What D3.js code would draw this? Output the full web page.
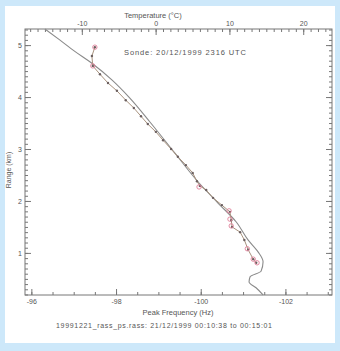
<!DOCTYPE html>
<html>
<head>
<meta charset="utf-8">
<script src="https://cdn.jsdelivr.net/npm/d3@7"></script>
<style>
  body { margin: 0; background: #cde8fa; }
  svg { display: block; }
  text { font-family: "Liberation Sans", Arial, sans-serif; fill: #555; }
</style>
</head>
<body>
<div id="chart"></div>
<script>
// sonde temperature profile (top axis)
const sondeTemp = [-15.0, -13.0, -10.95, -8.64, -5.93, -3.49, -0.77, 2.62, 5.74, 8.45, 10.9, 12.52, 13.88, 14.56, 14.29, 12.8, 12.66, 13.61, 14.56];
const sondeRange = [5.31, 5.1, 4.88, 4.65, 4.33, 3.98, 3.52, 2.92, 2.37, 1.96, 1.6, 1.25, 1.02, 0.83, 0.65, 0.54, 0.44, 0.33, 0.19];

// RASS peak frequency profile (bottom axis)
const rassFreq = [-97.5, -97.43, -97.45, -97.62, -97.81, -98.02, -98.23, -98.42, -98.59, -98.75, -98.94, -99.11, -99.3, -99.46, -99.65, -99.81, -99.91, -99.98, -100.13, -100.29, -100.5, -100.69, -100.72, -100.74, -100.93, -101.03, -101.12, -101.24, -101.31];
const rassRange = [4.96, 4.79, 4.6, 4.44, 4.27, 4.12, 3.94, 3.79, 3.63, 3.48, 3.33, 3.17, 3.0, 2.85, 2.69, 2.54, 2.38, 2.29, 2.21, 2.06, 1.92, 1.79, 1.63, 1.5, 1.4, 1.25, 1.06, 0.88, 0.81];

// flagged gates (pink circles)
const flagFreq = [-97.5, -97.45, -99.96, -100.67, -100.69, -100.72, -101.1, -101.24, -101.33];
const flagRange = [4.96, 4.6, 2.27, 1.81, 1.65, 1.52, 1.08, 0.88, 0.81];

const freqTicks = [-96, -98, -100, -102];
const tempTicks = [-10, 0, 10, 20];
const rangeTicks = [1, 2, 3, 4, 5];

const width = 340, height = 351;
const svg = d3.select('#chart').append('svg')
    .attr('width', width)
    .attr('height', height);

svg.append('rect')
    .attr('x', 5).attr('y', 6)
    .attr('width', 330).attr('height', 337)
    .attr('fill', '#fff');

const plotL = 25, plotR = 332, plotT = 29, plotB = 295;

const x = d3.scaleLinear().domain([-95.85, -103.1]).range([plotL, plotR]);
const xT = d3.scaleLinear().domain([-17.7, 23.9]).range([plotL, plotR]);
const y = d3.scaleLinear().domain([0.19, 5.31]).range([plotB, plotT]);

const fmt = d => String(d);
const axisColor = '#777';
const textColor = '#555';

function styleAxis(g) {
    g.select('.domain').remove();
    g.selectAll('line').attr('stroke', axisColor);
    g.selectAll('text').attr('font-size', 7).attr('fill', textColor);
}

// bottom axis
svg.append('g').attr('transform', `translate(0,${plotB})`)
    .call(d3.axisBottom(x).tickValues(d3.range(-96, -103.01, -0.5)).tickSize(-3).tickFormat(''))
    .call(styleAxis);
svg.append('g').attr('transform', `translate(0,${plotB})`)
    .call(d3.axisBottom(x).tickValues(freqTicks).tickSize(-6).tickPadding(4).tickFormat(fmt))
    .call(styleAxis);

// top axis
svg.append('g').attr('transform', `translate(0,${plotT})`)
    .call(d3.axisTop(xT).tickValues(d3.range(-17, 24, 1)).tickSize(-3).tickFormat(''))
    .call(styleAxis);
svg.append('g').attr('transform', `translate(0,${plotT})`)
    .call(d3.axisTop(xT).tickValues(tempTicks).tickSize(-6).tickPadding(3).tickFormat(fmt))
    .call(styleAxis);

// left axis
svg.append('g').attr('transform', `translate(${plotL},0)`)
    .call(d3.axisLeft(y).tickValues(d3.range(0.2, 5.31, 0.1)).tickSize(-3).tickFormat(''))
    .call(styleAxis);
svg.append('g').attr('transform', `translate(${plotL},0)`)
    .call(d3.axisLeft(y).tickValues(rangeTicks).tickSize(-6).tickPadding(3).tickFormat(fmt))
    .call(styleAxis);

// right axis
svg.append('g').attr('transform', `translate(${plotR},0)`)
    .call(d3.axisLeft(y).tickValues(d3.range(0.2, 5.31, 0.1)).tickSize(3).tickFormat(''))
    .call(styleAxis);
svg.append('g').attr('transform', `translate(${plotR},0)`)
    .call(d3.axisLeft(y).tickValues(rangeTicks).tickSize(6).tickFormat(''))
    .call(styleAxis);

// frame
svg.append('rect')
    .attr('x', plotL).attr('y', plotT)
    .attr('width', plotR - plotL).attr('height', plotB - plotT)
    .attr('fill', 'none')
    .attr('stroke', axisColor);

// sonde line
const sonde = sondeTemp.map((t, i) => [t, sondeRange[i]]);
svg.append('path')
    .datum(sonde)
    .attr('fill', 'none')
    .attr('stroke', '#8a8a8a')
    .attr('stroke-width', 1.1)
    .attr('d', d3.line().x(d => xT(d[0])).y(d => y(d[1])).curve(d3.curveMonotoneY));

// rass line
const rass = rassFreq.map((f, i) => [f, rassRange[i]]);
svg.append('path')
    .datum(rass)
    .attr('fill', 'none')
    .attr('stroke', '#a8927e')
    .attr('stroke-width', 1)
    .attr('d', d3.line().x(d => x(d[0])).y(d => y(d[1])));

svg.selectAll('.gate')
    .data(rass)
    .join('circle')
    .attr('class', 'gate')
    .attr('cx', d => x(d[0]))
    .attr('cy', d => y(d[1]))
    .attr('r', 1.2)
    .attr('fill', '#6b5f5f');

const flags = flagFreq.map((f, i) => [f, flagRange[i]]);
svg.selectAll('.flag')
    .data(flags)
    .join('circle')
    .attr('class', 'flag')
    .attr('cx', d => x(d[0]))
    .attr('cy', d => y(d[1]))
    .attr('r', 2.2)
    .attr('fill', 'none')
    .attr('stroke', '#e0809a')
    .attr('stroke-width', 0.9);

// titles
svg.append('text')
    .attr('x', 153).attr('y', 18)
    .attr('text-anchor', 'middle')
    .attr('font-size', 7.5)
    .attr('fill', textColor)
    .text('Temperature (\u00B0C)');

svg.append('text')
    .attr('x', 124).attr('y', 55)
    .attr('font-size', 7.5)
    .attr('fill', textColor)
    .attr('textLength', 122)
    .text('Sonde: 20/12/1999  2316 UTC');

svg.append('text')
    .attr('transform', 'translate(11,170) rotate(-90)')
    .attr('text-anchor', 'middle')
    .attr('font-size', 7)
    .attr('fill', textColor)
    .text('Range (km)');

svg.append('text')
    .attr('x', 178).attr('y', 315)
    .attr('text-anchor', 'middle')
    .attr('font-size', 7.5)
    .attr('fill', textColor)
    .text('Peak Frequency (Hz)');

svg.append('text')
    .attr('x', 56).attr('y', 328)
    .attr('font-size', 7)
    .attr('fill', textColor)
    .attr('textLength', 216)
    .text('19991221_rass_ps.rass:  21/12/1999  00:10:38 to 00:15:01');
</script>
</body>
</html>
